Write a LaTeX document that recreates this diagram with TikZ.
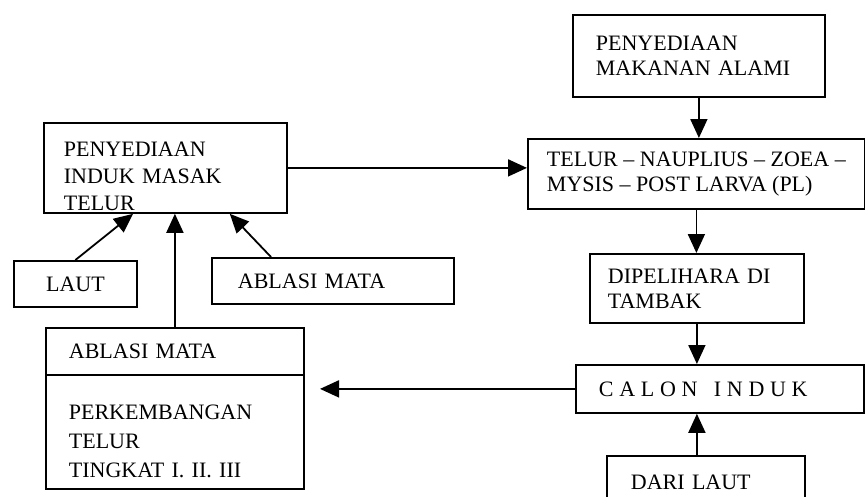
\documentclass[tikz,border=0pt]{standalone}
\usepackage{fontspec}
\setmainfont{Liberation Serif}
\usetikzlibrary{arrows.meta,calc}
\tikzset{
  box/.style={draw,line width=1.8pt,anchor=north west,align=left,inner ysep=0pt,
    font=\fontsize{22}{25}\selectfont},
  panah/.style={line width=1.8pt,-{Triangle[length=19pt,width=17pt]}}
}

\begin{document}
\begin{tikzpicture}[x=1pt,y=-1pt]
\useasboundingbox (0,0) rectangle (865,496);
\clip (0,0) rectangle (865,496);
\node[box,text width=206pt,inner xsep=23pt,minimum height=82pt] (makanan) at (572,14) {PENYEDIAAN\\MAKANAN ALAMI};
\node[box,minimum width=337pt,minimum height=70pt] (telur) at (527,138) {TELUR -- NAUPLIUS -- ZOEA --\\MYSIS -- POST LARVA (PL)};
\node[box,text width=203pt,inner xsep=20pt,minimum height=90pt,font=\fontsize{22}{27}\selectfont] (induk) at (43,122) {\rule{0pt}{31pt}PENYEDIAAN\\INDUK MASAK\\TELUR};
\node[box,minimum width=123pt,minimum height=46pt] (laut) at (13,260) {LAUT};
\node[box,text width=190pt,inner xsep=26pt,minimum height=46pt] (ablasi) at (211,257) {ABLASI MATA};
\node[box,text width=212pt,inner xsep=23pt,minimum height=47pt] (mataatas) at (45,327) {ABLASI MATA};
\node[box,text width=212pt,inner xsep=23pt,minimum height=114pt,font=\fontsize{22}{29}\selectfont] (kembang) at (45,374) {\rule{0pt}{33pt}PERKEMBANGAN\\TELUR\\TINGKAT I. II. III};
\node[box,text width=178pt,inner xsep=18pt,minimum height=69pt] (dipelihara) at (589,253) {DIPELIHARA DI\\TAMBAK};
\node[box,text width=242pt,inner xsep=23pt,minimum height=48pt] (calon) at (575,364) {\addfontfeature{LetterSpace=26}CALON\hspace{9pt} INDUK};
\node[box,text width=150pt,inner xsep=24pt,minimum height=52pt] (darilaut) at (606,455) {DARI LAUT};
\coordinate (ujung) at (320,391);

\path[panah]
  (laut.north) edge ($(induk.south west)+(90,0)$)
  ($(ablasi.north west)+(60,0)$) edge ($(induk.south east)+(-58,0)$)
  (mataatas.north) edge (mataatas.north |- induk.south)
  (induk.east) edge (induk.east -| telur.west)
  (makanan.south) edge (makanan.south |- telur.north)
  (telur.south) edge (telur.south |- dipelihara.north)
  (dipelihara.south) edge (dipelihara.south |- calon.north)
  (dipelihara.south |- darilaut.north) edge (dipelihara.south |- calon.south)
  (calon.west) edge (calon.west -| ujung);
\end{tikzpicture}
\end{document}
